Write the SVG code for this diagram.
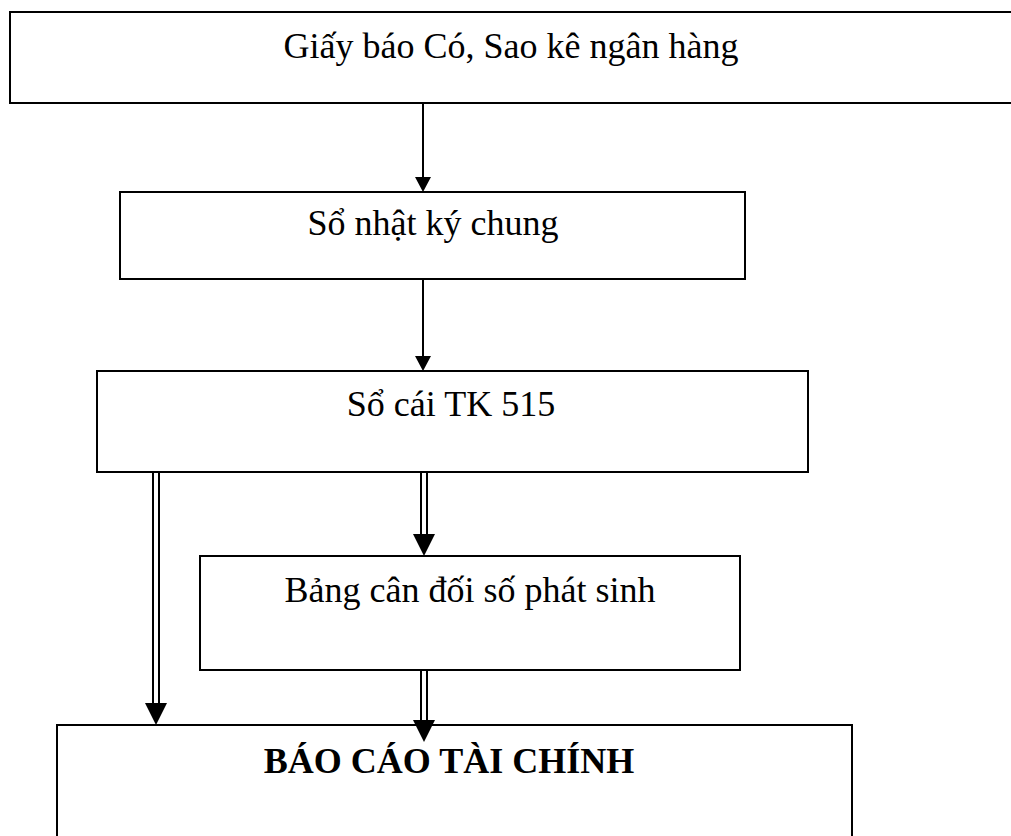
<svg xmlns="http://www.w3.org/2000/svg" width="1011" height="836" viewBox="0 0 1011 836">
  <style>
    .box { fill: #ffffff; stroke: #000000; stroke-width: 2; }
    .lbl { font-family: "Liberation Serif", "Times New Roman", serif; font-size: 36px; fill: #000000; text-anchor: middle; }
    .bold { font-weight: bold; }
    .line { stroke: #000000; stroke-width: 2; fill: none; }
    .dbl { stroke: #000000; stroke-width: 2; fill: none; }
    .head { fill: #000000; stroke: none; }
  </style>
  <rect width="1011" height="836" fill="#ffffff"/>

  <g id="node-giay-bao-co">
    <rect class="box" x="10" y="12" width="1010" height="91"/>
    <text class="lbl" x="511" y="58">Giấy báo Có, Sao kê ngân hàng</text>
  </g>

  <g id="node-so-nhat-ky-chung">
    <rect class="box" x="120" y="192" width="625" height="87"/>
    <text class="lbl" x="433" y="235">Sổ nhật ký chung</text>
  </g>

  <g id="node-so-cai-tk-515">
    <rect class="box" x="97" y="371" width="711" height="101"/>
    <text class="lbl" x="451" y="416">Sổ cái TK 515</text>
  </g>

  <g id="node-bang-can-doi">
    <rect class="box" x="200" y="556" width="540" height="114"/>
    <text class="lbl" x="470" y="602">Bảng cân đối số phát sinh</text>
  </g>

  <g id="node-bao-cao-tai-chinh">
    <rect class="box" x="57" y="725" width="795" height="130"/>
    <text class="lbl bold" x="449" y="773">BÁO CÁO TÀI CHÍNH</text>
  </g>

  <g id="connectors">
    <!-- single arrows -->
    <line class="line" x1="423" y1="103" x2="423" y2="180"/>
    <polygon class="head" points="415,177 431,177 423,192"/>
    <line class="line" x1="423" y1="279" x2="423" y2="360"/>
    <polygon class="head" points="415,356 431,356 423,371"/>

    <!-- double arrows -->
    <line class="dbl" x1="153" y1="472" x2="153" y2="705"/>
    <line class="dbl" x1="159" y1="472" x2="159" y2="705"/>
    <polygon class="head" points="145,703 167,703 156,725"/>

    <line class="dbl" x1="421" y1="472" x2="421" y2="536"/>
    <line class="dbl" x1="427" y1="472" x2="427" y2="536"/>
    <polygon class="head" points="413,534 435,534 424,556"/>

    <line class="dbl" x1="421" y1="670" x2="421" y2="722"/>
    <line class="dbl" x1="427" y1="670" x2="427" y2="722"/>
    <polygon class="head" points="413,720 435,720 424,742"/>
  </g>
</svg>
